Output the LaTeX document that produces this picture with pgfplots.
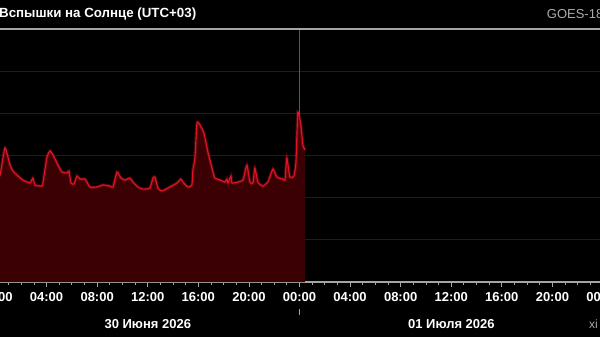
\documentclass[border=0pt]{standalone}
\usepackage{pgfplots}
\usepackage{pgfplotstable}
\pgfplotsset{compat=1.18}
\usepackage{fontspec}
\setmainfont{Liberation Sans}
\definecolor{fillred}{RGB}{58,0,3}
\definecolor{linered}{RGB}{225,20,38}
\definecolor{gridc}{RGB}{30,27,33}
\definecolor{axgray}{RGB}{165,165,165}
\definecolor{txtgray}{RGB}{170,170,170}

\pgfplotstableread{
h f
0.00 3.0e-7
0.32 3.44e-7
0.71 1.51e-6
1.11 5.96e-7
1.34 4.28e-7
1.66 3.44e-7
2.13 2.62e-7
2.69 2.23e-7
2.92 2.92e-7
3.08 2.0e-7
3.64 1.89e-7
3.72 2.35e-7
4.03 9.2e-7
4.27 1.28e-6
4.51 1.03e-6
4.90 5.96e-7
5.22 4.06e-7
5.61 3.85e-7
5.77 4.28e-7
5.93 2.23e-7
6.17 2.11e-7
6.40 3.27e-7
6.64 2.77e-7
7.04 2.77e-7
7.19 2.35e-7
7.43 1.79e-7
7.98 1.79e-7
8.46 2.0e-7
9.01 1.89e-7
9.25 1.79e-7
9.57 4.06e-7
9.88 2.92e-7
10.20 2.62e-7
10.59 2.92e-7
10.83 2.35e-7
11.23 1.79e-7
11.62 1.60e-7
12.17 1.69e-7
12.41 2.92e-7
12.57 3.09e-7
12.81 1.69e-7
13.12 1.44e-7
13.75 1.79e-7
14.31 2.23e-7
14.62 2.77e-7
14.78 2.35e-7
15.18 1.79e-7
15.49 2.0e-7
15.57 4.53e-7
15.73 8.7e-7
15.89 5.89e-6
16.13 5.28e-6
16.44 3.41e-6
16.76 1.21e-6
17.08 5.05e-7
17.31 2.92e-7
17.71 2.62e-7
18.10 2.35e-7
18.26 2.77e-7
18.34 2.23e-7
18.58 3.27e-7
18.66 2.23e-7
19.13 2.35e-7
19.53 2.62e-7
19.84 5.96e-7
20.08 2.35e-7
20.32 2.23e-7
20.47 5.05e-7
20.71 2.35e-7
21.11 1.89e-7
21.50 2.35e-7
21.90 4.79e-7
22.21 3.09e-7
22.69 2.77e-7
22.85 2.62e-7
23.00 8.7e-7
23.24 3.09e-7
23.56 3.27e-7
23.72 7.0e-7
23.87 1.07e-5
24.11 5.28e-6
24.27 1.77e-6
24.43 1.35e-6
}\flux

\begin{document}
\begin{tikzpicture}[x=1pt,y=1pt]
\path[use as bounding box] (0,0) rectangle (600,337);
\fill[black] (0,0) rectangle (600,337);
\clip (0,0) rectangle (600,337);
\begin{axis}[
  at={(-4pt,55pt)}, anchor=south west,
  scale only axis, width=607pt, height=253pt,
  xmin=0, xmax=48,
  ymode=log, ymin=1e-9, ymax=1e-3, log origin y=infty,
  axis x line*=bottom, axis y line*=left,
  x axis line style={-, axgray, line width=1.3pt},
  y axis line style={draw=none},
  ytick={1e-8,1e-7,1e-6,1e-5,1e-4}, yticklabel={},
  ytick style={draw=none},
  ymajorgrids, major grid style={gridc, line width=1pt},
  xtick={0,4,...,48},
  minor xtick={0,1,...,48},
  xticklabels={00:00,04:00,08:00,12:00,16:00,20:00,00:00,04:00,08:00,12:00,16:00,20:00,00:00},
  tick align=outside,
  major tick length=5pt, minor tick length=3pt,
  xtick style={axgray, line width=0.8pt},
  xticklabel style={font=\bfseries\fontsize{13}{15}\selectfont, text=white, anchor=base, yshift=-14pt},
]
\draw[black!65!white, line width=0.5pt] (axis cs:24,1e-9) -- (axis cs:24,1e-3);
\addplot[fill=fillred, draw=none, smooth, tension=0.3] table[x=h,y=f] {\flux} \closedcycle;
\addplot[linered, opacity=0.3, line width=3.2pt, smooth, tension=0.3] table[x=h,y=f] {\flux};
\addplot[linered, line width=1.1pt, smooth, tension=0.3] table[x=h,y=f] {\flux};
\end{axis}
\draw[axgray, line width=1.6pt] (0,308) -- (600,308);
\draw[axgray, line width=0.8pt] (299.6,22) -- (299.6,28);
\node[anchor=base west, inner sep=0, text=white, font=\bfseries\fontsize{13.3}{16}\selectfont] at (-1,319.5) {Вспышки на Солнце (UTC+03)};
\node[anchor=base west, inner sep=0, text=txtgray, font=\fontsize{13}{15}\selectfont] at (546.7,318.7) {GOES-18};
\node[anchor=base, inner sep=0, text=white, font=\bfseries\fontsize{13}{15}\selectfont] at (147.8,8.3) {30 Июня 2026};
\node[anchor=base, inner sep=0, text=white, font=\bfseries\fontsize{13}{15}\selectfont] at (451.4,8.3) {01 Июля 2026};
\node[anchor=base west, inner sep=0, text=txtgray, font=\fontsize{12}{14}\selectfont] at (589,8.3) {хі};
\end{tikzpicture}
\end{document}
